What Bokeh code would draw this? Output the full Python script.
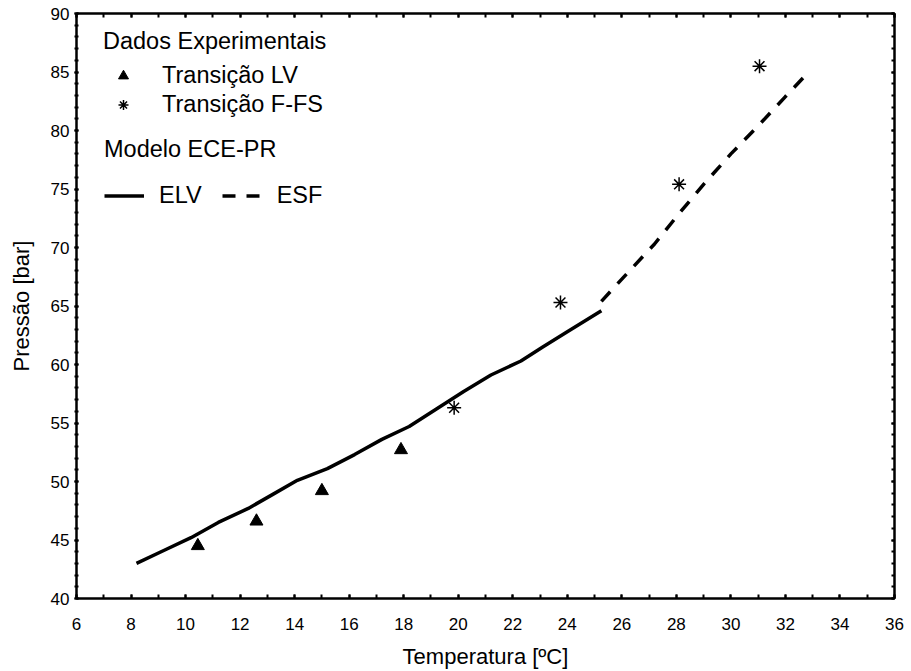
from bokeh.plotting import figure
from bokeh.models import (Range1d, LinearAxis, SingleIntervalTicker, Legend, LegendItem,
                          CustomJSTickFormatter)
from bokeh.embed import file_html
from bokeh.resources import INLINE

# Experimental data
lv_T = [10.45, 12.6, 15.0, 17.9]
lv_P = [44.5, 46.6, 49.2, 52.7]
ffs_T = [19.85, 23.75, 28.1, 31.05]
ffs_P = [56.3, 65.3, 75.4, 85.5]

# Model ECE-PR
elv_T = [8.2, 9.2, 10.2, 11.2, 12.3, 13.2, 14.1, 15.2, 16.2, 17.2, 18.2, 19.2, 20.2, 21.2, 22.3, 23.1, 24.0, 25.25]
elv_P = [43.0, 44.1, 45.2, 46.5, 47.7, 48.9, 50.1, 51.1, 52.3, 53.6, 54.7, 56.2, 57.7, 59.1, 60.3, 61.5, 62.8, 64.6]
esf_T = [25.25, 26.2, 27.2, 28.1, 29.0, 30.0, 31.0, 32.0, 32.85]
esf_P = [65.4, 67.8, 70.3, 72.9, 75.4, 78.0, 80.4, 82.9, 85.0]

FONT = "Liberation Sans"

p = figure(width=911, height=671, output_backend="svg", toolbar_location=None,
           x_range=Range1d(6, 36), y_range=Range1d(40, 90),
           min_border_left=76, min_border_right=17, min_border_top=13, min_border_bottom=73,
           x_axis_label="Temperatura [ºC]", y_axis_label="Pressão [bar]")
p.grid.visible = False
p.outline_line_color = "black"
p.outline_line_width = 2
p.background_fill_color = "white"
p.border_fill_color = "white"

p.xaxis.ticker = SingleIntervalTicker(interval=2, num_minor_ticks=2)
p.yaxis.ticker = SingleIntervalTicker(interval=5, num_minor_ticks=5)

for ax in (p.xaxis[0], p.yaxis[0]):
    ax.axis_line_width = 2
    ax.axis_line_color = "black"
    ax.major_tick_line_width = 2
    ax.minor_tick_line_width = 2
    ax.major_label_text_font = FONT
    ax.major_label_text_font_size = "17px"
    ax.major_label_text_color = "black"
    ax.axis_label_text_font = FONT
    ax.axis_label_text_font_size = "22px"
    ax.axis_label_text_font_style = "normal"
    ax.axis_label_text_color = "black"

p.xaxis.major_tick_in = 4
p.xaxis.major_tick_out = 0
p.xaxis.minor_tick_in = 4
p.xaxis.minor_tick_out = 0
p.xaxis.major_label_standoff = 19
p.xaxis.axis_label_standoff = 11

p.yaxis.major_tick_in = 2
p.yaxis.major_tick_out = 2
p.yaxis.minor_tick_in = 2
p.yaxis.minor_tick_out = 2
p.yaxis.major_label_standoff = 5
p.yaxis.major_label_text_baseline = "top"
p.yaxis.axis_label_standoff = 14

blank = CustomJSTickFormatter(code="return ''")
top = LinearAxis(ticker=SingleIntervalTicker(interval=2, num_minor_ticks=2),
                 formatter=blank, major_label_standoff=0,
                 major_tick_in=4, major_tick_out=0, minor_tick_in=4, minor_tick_out=0,
                 axis_line_width=2, major_tick_line_width=2, minor_tick_line_width=2)
right = LinearAxis(ticker=SingleIntervalTicker(interval=5, num_minor_ticks=5),
                   formatter=blank, major_label_standoff=0,
                   major_tick_in=3, major_tick_out=0, minor_tick_in=3, minor_tick_out=0,
                   axis_line_width=2, major_tick_line_width=2, minor_tick_line_width=2)
p.add_layout(top, "above")
p.add_layout(right, "right")

r_elv = p.line(elv_T, elv_P, line_color="black", line_width=3.5)
r_esf = p.line(esf_T, esf_P, line_color="black", line_width=3.5, line_dash="13 11")
r_lv = p.scatter(lv_T, lv_P, marker="triangle", size=13, fill_color="black", line_color="black")
r_ffs = p.scatter(ffs_T, ffs_P, marker="asterisk", size=14, line_color="black", line_width=1.5)

def style_legend(lg):
    lg.border_line_color = None
    lg.background_fill_alpha = 0
    lg.label_text_font = FONT
    lg.label_text_font_size = "23.5px"
    lg.label_text_color = "black"
    lg.title_text_font = FONT
    lg.title_text_font_size = "23.5px"
    lg.title_text_font_style = "normal"
    lg.title_text_color = "black"
    lg.glyph_width = 40
    lg.glyph_height = 25
    lg.label_height = 25
    lg.padding = 5
    lg.margin = 0

leg1 = Legend(items=[LegendItem(label="Transição LV", renderers=[r_lv]),
                     LegendItem(label="Transição F-FS", renderers=[r_ffs])],
              title="Dados Experimentais", location=(27, 480))
style_legend(leg1)
leg1.label_standoff = 19
leg1.spacing = 2
leg1.title_standoff = 7

leg2 = Legend(items=[LegendItem(label="ELV", renderers=[r_elv]),
                     LegendItem(label="ESF", renderers=[r_esf])],
              title="Modelo ECE-PR", orientation="horizontal", location=(28, 389))
style_legend(leg2)
leg2.label_standoff = 15
leg2.spacing = 20
leg2.title_standoff = 19

p.add_layout(leg1)
p.add_layout(leg2)

open("out.html", "w").write(file_html(p, INLINE))
